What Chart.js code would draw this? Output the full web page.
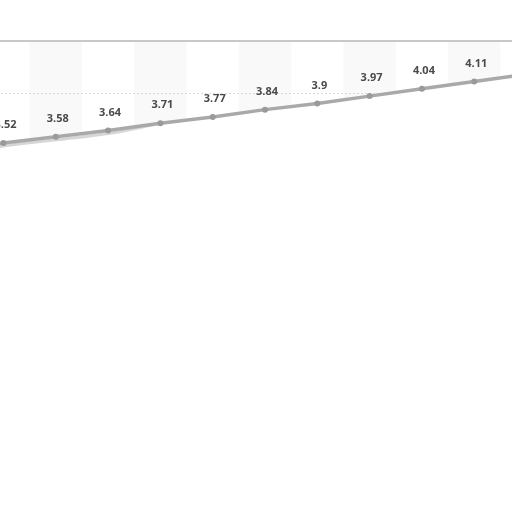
<!DOCTYPE html>
<html>
<head>
<meta charset="utf-8">
<script src="https://cdn.jsdelivr.net/npm/chart.js@4/dist/chart.umd.min.js"></script>
<style>
  html, body { margin: 0; padding: 0; background: #fff; overflow: hidden; }
  #wrap { position: absolute; left: -79px; top: 0; width: 688px; height: 513px; }
</style>
</head>
<body>
<div id="wrap"><canvas id="chart"></canvas></div>
<script>
// adatok
const labels = ['1', '2', '3', '4', '5', '6', '7', '8', '9', '10', '11', '12', '13'];
const values = [3.46, 3.52, 3.58, 3.64, 3.71, 3.77, 3.84, 3.9, 3.97, 4.04, 4.11, 4.18, 4.25];
const shadowValues = [3.41, 3.49, 3.55, 3.61, 3.71, null, null, null, null, null, null, null, null];
const yTicks = { min: 0, max: 4.5, step: 0.5 };

// csíkos háttér oszloponként + felső szegély
const bandsPlugin = {
    id: 'bands',
    beforeDraw(chart) {
        const { ctx, chartArea, scales } = chart;
        const w = scales.x.getPixelForValue(1) - scales.x.getPixelForValue(0);
        ctx.save();
        ctx.fillStyle = '#f9f9f9';
        labels.forEach((l, i) => {
            if (i % 2 === 0) {
                const cx = scales.x.getPixelForValue(i);
                ctx.fillRect(cx - w / 2, chartArea.top, w, chartArea.bottom - chartArea.top);
            }
        });
        ctx.restore();
    },
    afterDraw(chart) {
        const { ctx, chartArea, scales } = chart;
        const y = scales.y.getPixelForValue(yTicks.max);
        ctx.save();
        ctx.strokeStyle = '#c8c8c8';
        ctx.lineWidth = 2;
        ctx.beginPath();
        ctx.moveTo(chartArea.left, y);
        ctx.lineTo(chartArea.right, y);
        ctx.stroke();
        ctx.restore();
    }
};

// értékcímkék a pontok fölött
const valueLabels = {
    id: 'valueLabels',
    afterDatasetsDraw(chart) {
        const { ctx } = chart;
        const meta = chart.getDatasetMeta(0);
        ctx.save();
        ctx.font = 'bold 11px "Open Sans", "Liberation Sans", sans-serif';
        ctx.fillStyle = '#4a4a4a';
        ctx.textAlign = 'center';
        ctx.textBaseline = 'middle';
        meta.data.forEach((pt, i) => {
            ctx.fillText(String(values[i]), pt.x + 2, pt.y - 18);
        });
        ctx.restore();
    }
};

const ctx = document.getElementById('chart').getContext('2d');
new Chart(ctx, {
    type: 'line',
    data: {
        labels: labels,
        datasets: [{
            data: values,
            borderColor: '#a9a9a9',
            borderWidth: 3.5,
            backgroundColor: '#ffffff',
            fill: 'origin',
            pointRadius: 3,
            pointBackgroundColor: '#9a9a9a',
            pointBorderColor: '#9a9a9a',
            pointBorderWidth: 0,
            tension: 0
        }, {
            data: shadowValues,
            borderColor: '#d6d6d6',
            borderWidth: 3,
            fill: false,
            pointRadius: 0,
            tension: 0.4,
            spanGaps: false
        }]
    },
    options: {
        responsive: true,
        maintainAspectRatio: false,
        animation: false,
        layout: { padding: { top: 41, left: 0, right: 0, bottom: 0 } },
        plugins: {
            legend: { display: false },
            tooltip: { enabled: false },
            filler: { drawTime: 'beforeDatasetsDraw' }
        },
        scales: {
            x: {
                display: false,
                offset: true
            },
            y: {
                min: yTicks.min,
                max: yTicks.max,
                ticks: { display: false, stepSize: yTicks.step },
                grid: {
                    color: (c) => (c.tick && c.tick.value === yTicks.min) ? 'rgba(0,0,0,0)' : '#d8d8d8',
                    drawTicks: false,
                    lineWidth: 1
                },
                border: { display: false, dash: [2, 2] }
            }
        }
    },
    plugins: [bandsPlugin, valueLabels]
});
</script>
</body>
</html>
